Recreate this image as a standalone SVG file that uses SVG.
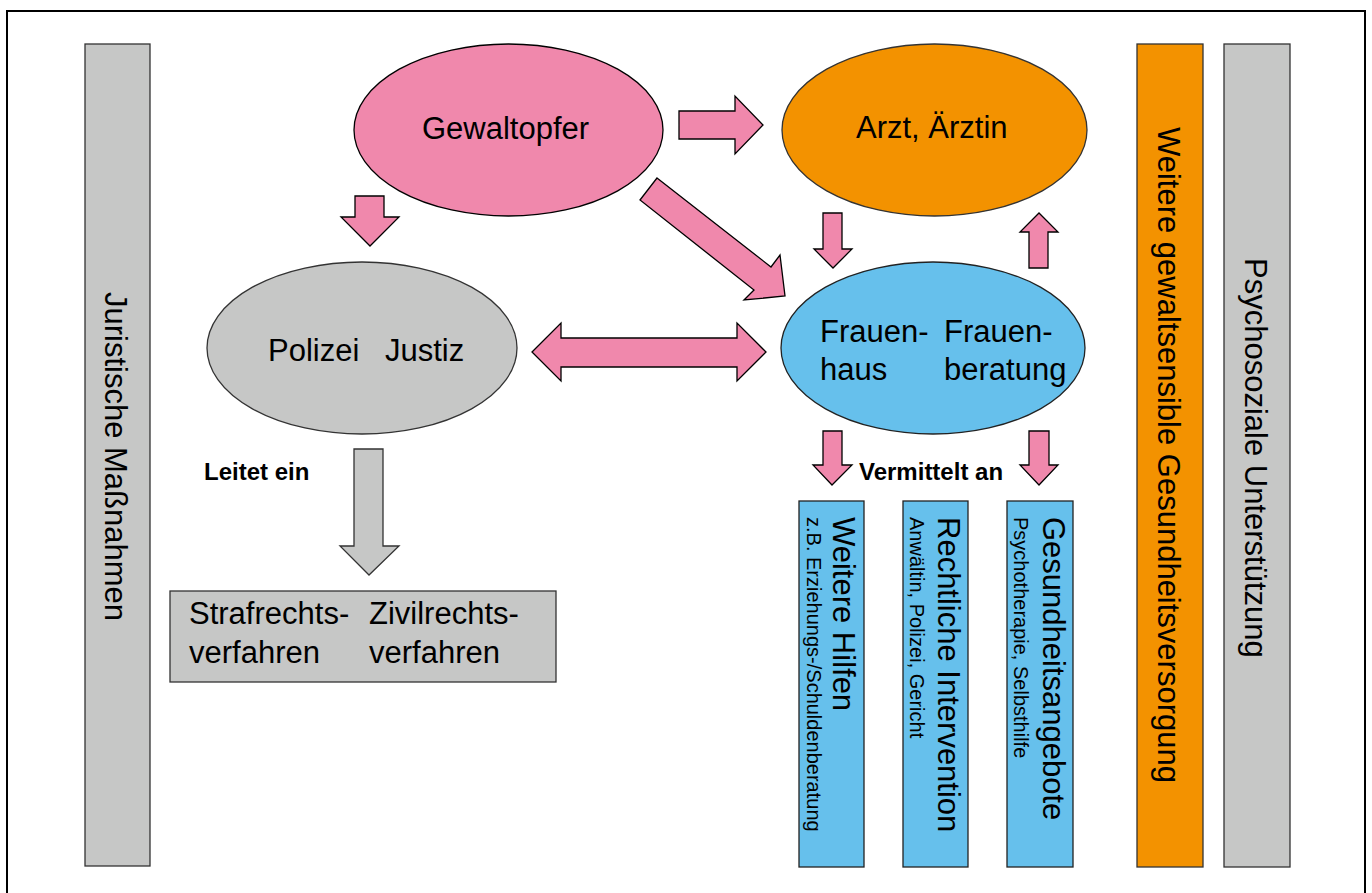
<svg xmlns="http://www.w3.org/2000/svg" width="1372" height="893" viewBox="0 0 1372 893">
<style>
.t{font-family:"Liberation Sans",Arial,sans-serif;font-size:31px;fill:#000}
.b{font-family:"Liberation Sans",Arial,sans-serif;font-size:24px;font-weight:bold;fill:#000}
.s{font-family:"Liberation Sans",Arial,sans-serif;font-size:20px;fill:#000}
.pink{fill:#F088AC;stroke:#000;stroke-width:1.3}
.gray{fill:#C6C7C6;stroke:#333;stroke-width:1.3}
.orange{fill:#F39200;stroke:#333;stroke-width:1.3}
.blue{fill:#66C0EC;stroke:#222;stroke-width:1.3}
</style>
<rect x="7" y="11" width="1358" height="900" fill="#fff" stroke="#000" stroke-width="2"/>
<g id="bar-juristisch"><rect class="gray" x="85" y="44" width="65" height="822"/><text class="t" transform="translate(105,292) rotate(90)">Juristische Maßnahmen</text></g>
<g id="bar-gesundheit"><rect class="orange" x="1137" y="44" width="66" height="823"/><text class="t" transform="translate(1158,127) rotate(90)">Weitere gewaltsensible Gesundheitsversorgung</text></g>
<g id="bar-psycho"><rect class="gray" x="1224" y="44" width="66" height="823"/><text class="t" transform="translate(1245,258) rotate(90)">Psychosoziale Unterstützung</text></g>
<g id="gewaltopfer"><ellipse class="pink" cx="508.5" cy="130" rx="154.5" ry="86"/><text class="t" x="422" y="139">Gewaltopfer</text></g>
<g id="arzt"><ellipse class="orange" cx="934.5" cy="130" rx="152.5" ry="86"/><text class="t" x="856" y="138">Arzt, Ärztin</text></g>
<g id="polizei"><ellipse class="gray" cx="362" cy="348" rx="155" ry="86"/><text class="t" x="268" y="361">Polizei</text><text class="t" x="385" y="361">Justiz</text></g>
<g id="frauenhaus"><ellipse class="blue" cx="933" cy="348" rx="152" ry="86"/><text class="t" x="820" y="342">Frauen-</text><text class="t" x="820" y="380">haus</text><text class="t" x="944" y="342">Frauen-</text><text class="t" x="944" y="380">beratung</text></g>
<g id="verfahren"><rect class="gray" x="170" y="591" width="386" height="91"/><text class="t" x="189" y="624">Strafrechts-</text><text class="t" x="189" y="663">verfahren</text><text class="t" x="369" y="624">Zivilrechts-</text><text class="t" x="369" y="663">verfahren</text></g>
<g id="weitere-hilfen"><rect class="blue" x="799" y="501" width="65" height="366"/><text class="t" transform="translate(833,517) rotate(90)">Weitere Hilfen</text><text class="s" transform="translate(807,517) rotate(90)">z.B. Erziehungs-/Schuldenberatung</text></g>
<g id="rechtliche"><rect class="blue" x="903" y="501" width="65" height="366"/><text class="t" transform="translate(938,517) rotate(90)">Rechtliche Intervention</text><text class="s" transform="translate(910,517) rotate(90)">Anwältin, Polizei, Gericht</text></g>
<g id="gesundheitsangebote"><rect class="blue" x="1007" y="501" width="66" height="366"/><text class="t" transform="translate(1043,517) rotate(90)">Gesundheitsangebote</text><text class="s" transform="translate(1014,517) rotate(90)">Psychotherapie, Selbsthilfe</text></g>
<g id="connectors">
<polygon class="pink" points="679,111 735,111 735,96 763,125 735,154 735,139 679,139"/>
<polygon class="pink" points="657,178 771,267 780,255 785,296 744,300 754,290 640,200"/>
<polygon class="pink" points="355,196 384,196 384,217 399,217 370,246 341,217 355,217"/>
<polygon class="pink" points="532,352 561,323 561,338 737,338 737,323 766,352 737,381 737,367 561,367 561,381"/>
<polygon class="pink" points="823,213 842,213 842,249 852,249 833,268 814,249 823,249"/>
<polygon class="pink" points="1029,268 1048,268 1048,232 1058,232 1039,213 1020,232 1029,232"/>
<polygon class="pink" points="823,431 842,431 842,465 852,465 832,485 813,465 823,465"/>
<polygon class="pink" points="1029,431 1049,431 1049,465 1058,465 1039,485 1020,465 1029,465"/>
<polygon class="gray" points="354,449 383,449 383,546 399,546 369,575 340,546 354,546"/>
</g>
<text class="b" x="204" y="480">Leitet ein</text>
<text class="b" x="859" y="480">Vermittelt an</text>
</svg>
